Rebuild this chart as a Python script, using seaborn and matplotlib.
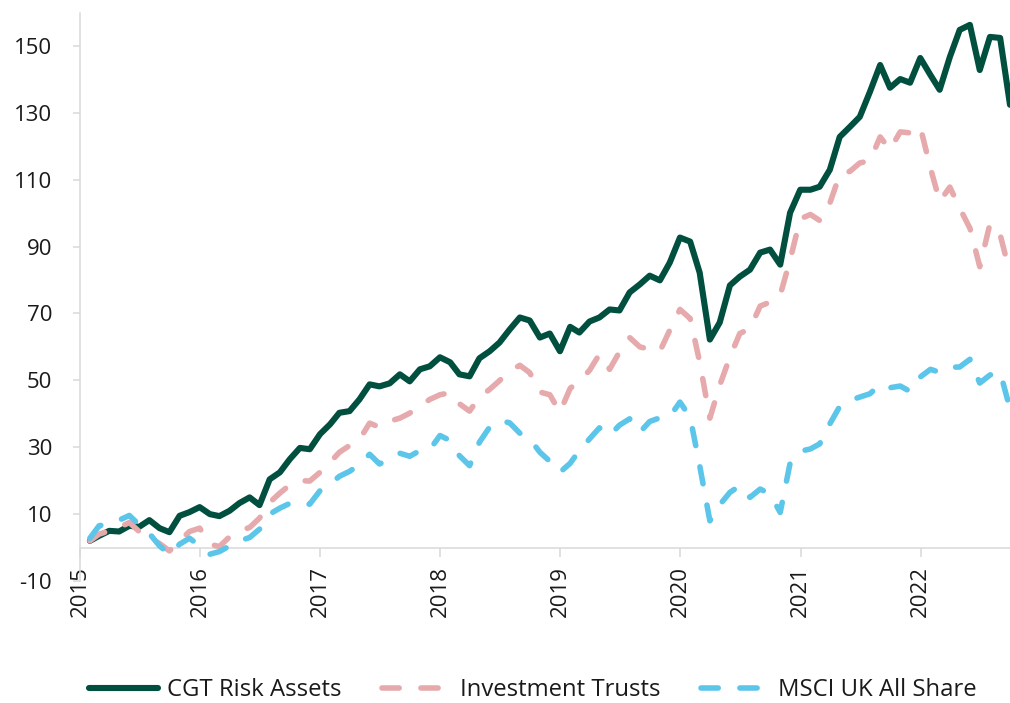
import numpy as np
import pandas as pd
import matplotlib
matplotlib.use("Agg")
import matplotlib.pyplot as plt
import seaborn as sns

# ---------------- data (monthly, Jan 2015 - Sep 2022) ----------------
series_names = ["CGT Risk Assets", "Investment Trusts", "MSCI UK All Share"]

cgt = [2.0, 3.5, 5.0, 4.8, 6.5, 6.2, 8.2, 5.8, 4.6, 9.5, 10.6, 12.1,
       10.0, 9.4, 11.0, 13.3, 15.0, 12.7, 20.4, 22.5, 26.4, 29.8, 29.4, 33.9,
       36.9, 40.3, 40.8, 44.3, 48.8, 48.2, 49.1, 51.8, 49.7, 53.3, 54.2, 56.9,
       55.4, 51.8, 51.2, 56.6, 58.7, 61.3, 65.2, 68.8, 67.9, 62.8, 64.0, 58.7,
       66.0, 64.3, 67.6, 68.8, 71.2, 70.9, 76.3, 78.7, 81.3, 79.9, 85.2, 92.7,
       91.5, 82.2, 62.2, 67.3, 78.4, 81.0, 83.1, 88.2, 89.1, 84.6, 100.1, 107.0,
       107.0, 107.9, 113.0, 122.8, 125.8, 128.8, 136.3, 144.3, 137.5, 140.1, 139.0, 146.4,
       141.3, 136.9, 146.7, 154.8, 156.3, 142.8, 152.7, 152.4, 132.4]

trusts = [2.0, 4.0, 5.0, 6.0, 7.5, 4.8, 3.0, 1.2, -1.0, 2.0, 4.8, 5.8,
          1.0, 0.3, 3.2, 5.0, 6.0, 8.8, 13.5, 16.3, 18.7, 20.0, 19.9, 22.5,
          25.5, 28.5, 30.5, 32.3, 37.2, 36.0, 37.8, 38.7, 40.2, 42.3, 44.3, 45.7,
          46.3, 43.0, 40.8, 45.0, 47.3, 49.9, 52.8, 54.5, 52.3, 46.5, 45.7, 40.5,
          47.6, 49.8, 53.0, 57.8, 53.3, 58.5, 62.8, 60.0, 59.3, 58.7, 65.0, 71.2,
          68.5, 55.5, 38.7, 48.5, 57.0, 64.0, 65.5, 72.2, 73.4, 75.5, 86.0, 98.3,
          99.6, 97.8, 103.0, 111.5, 112.5, 115.0, 115.7, 122.8, 119.0, 124.3, 124.0, 125.8,
          113.5, 103.5, 107.8, 101.5, 95.5, 84.0, 96.8, 93.6, 82.0]

msci = [2.8, 6.5, 7.2, 8.2, 9.6, 6.8, 4.2, 0.5, -2.0, 1.0, 2.8, 0.5,
        -2.0, -1.2, 0.5, 2.0, 3.0, 5.5, 10.0, 11.8, 13.2, 12.5, 13.0, 17.0,
        19.0, 21.3, 22.8, 24.8, 27.9, 25.0, 26.5, 28.2, 27.3, 29.0, 29.3, 33.5,
        32.0, 27.5, 24.5, 31.5, 36.0, 38.0, 37.3, 34.2, 32.5, 28.5, 25.8, 22.5,
        25.2, 29.0, 32.5, 35.8, 33.5, 36.6, 38.5, 34.5, 37.7, 38.8, 39.2, 43.5,
        39.0, 24.5, 8.0, 12.8, 16.5, 18.5, 15.0, 17.5, 16.0, 10.5, 25.2, 28.8,
        29.5, 31.0, 37.0, 42.2, 44.0, 45.0, 46.0, 48.8, 47.8, 48.3, 46.7, 51.0,
        53.3, 52.4, 53.9, 54.0, 56.3, 49.2, 51.6, 52.5, 41.5]

year_labels = ["2015", "2016", "2017", "2018", "2019", "2020", "2021", "2022"]
y_ticks = [-10, 10, 30, 50, 70, 90, 110, 130, 150]

dates = pd.date_range("2015-01-01", periods=len(cgt), freq="MS") + pd.offsets.MonthEnd(0)

df = pd.DataFrame({
    "date": np.tile(dates, 3),
    "value": cgt + trusts + msci,
    "series": np.repeat(series_names, len(cgt)),
})

colors = {"CGT Risk Assets": "#004F3F",
          "Investment Trusts": "#E6A9AC",
          "MSCI UK All Share": "#5BC5EA"}
dashes = {"CGT Risk Assets": "",
          "Investment Trusts": (3.1, 3.9),
          "MSCI UK All Share": (3.1, 3.9)}
widths = {"CGT Risk Assets": 4.4,
          "Investment Trusts": 4.0,
          "MSCI UK All Share": 4.0}

# ---------------- style ----------------
sns.set_theme(style="white")
plt.rcParams["font.family"] = ["Open Sans", "DejaVu Sans"]
plt.rcParams["text.color"] = "#1a1a1a"
plt.rcParams["xtick.color"] = "#1a1a1a"
plt.rcParams["ytick.color"] = "#1a1a1a"

W, H = 1010, 703
fig = plt.figure(figsize=(W / 100, H / 100), dpi=100)
ax = fig.add_axes([80 / W, 1 - 581 / H, 930 / W, (581 - 12.5) / H])

sns.lineplot(data=df, x="date", y="value", hue="series", style="series",
             size="series", hue_order=series_names, style_order=series_names,
             size_order=series_names, palette=colors, dashes=dashes,
             sizes=widths, legend=False, ax=ax)

lines = list(ax.lines[:3])
for ln in lines:
    ln.set_dash_capstyle("round")
    ln.set_solid_joinstyle("round")
    ln.set_dash_joinstyle("round")
    ln.set_solid_capstyle("round")

ax.set_xlim(pd.Timestamp("2015-01-01"), dates[-1])
ax.set_ylim(-10, 160)
ax.set_xlabel("")
ax.set_ylabel("")

grey = "#D9D9D9"
for s in ["top", "right"]:
    ax.spines[s].set_visible(False)
ax.spines["left"].set_color(grey)
ax.spines["left"].set_linewidth(1.1)
ax.spines["bottom"].set_color(grey)
ax.spines["bottom"].set_linewidth(1.1)
ax.spines["bottom"].set_position(("data", 0))
ax.spines["bottom"].set_zorder(0.5)

year_ticks = [pd.Timestamp(f"{y}-01-01") for y in year_labels]
ax.set_xticks(year_ticks)
ax.set_xticklabels(year_labels, rotation=90, fontsize=16)
ax.tick_params(axis="x", bottom=True, length=6.5, width=1.1, color=grey,
               direction="out", pad=7)
ax.set_yticks(y_ticks)
ax.set_yticklabels([str(v) for v in y_ticks], fontsize=16)
ax.tick_params(axis="y", left=True, length=5, width=1.1, color=grey,
               direction="out", pad=15)
ax.grid(False)

fig.legend(handles=lines, labels=series_names, loc="center",
           bbox_to_anchor=(533 / W, 1 - 690 / H), ncol=3, frameon=False,
           fontsize=17.2, handlelength=2.9, handletextpad=0.35,
           columnspacing=1.7)

fig.savefig("out.png", dpi=100)
